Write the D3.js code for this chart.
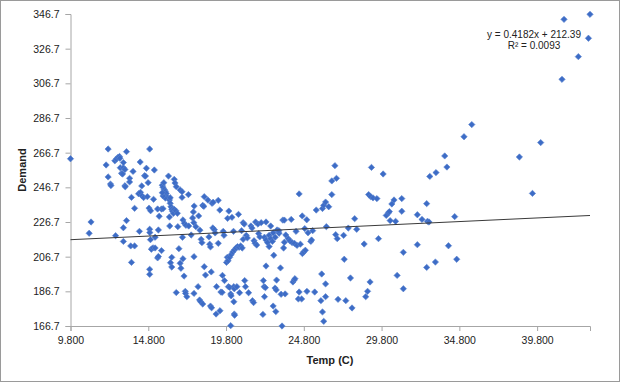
<!DOCTYPE html>
<html><head><meta charset="utf-8">
<script src="https://cdn.jsdelivr.net/npm/d3@7"></script>
<style>body{margin:0;background:#fff}svg{display:block}text{font-family:"Liberation Sans",Arial,sans-serif}</style>
</head><body><svg id="c" width="620" height="382"></svg>
<script>
const temps = [9.8,11.0,11.12,12.22,12.09,12.22,12.37,12.4,12.7,12.65,12.75,12.85,12.95,12.98,13.0,13.2,13.3,13.08,13.15,13.2,13.2,13.2,13.3,13.32,13.4,13.4,13.6,13.6,13.67,13.72,13.72,13.82,13.92,13.92,14.18,14.3,14.4,14.5,14.28,14.38,14.23,14.56,14.62,14.68,14.74,14.79,14.89,14.85,14.95,14.89,14.9,14.94,15.0,15.1,14.89,14.89,15.14,15.19,15.24,15.24,15.4,15.5,15.45,15.4,15.45,15.65,15.75,15.65,
15.7,15.75,15.83,15.9,15.96,16.0,15.9,15.75,15.7,15.8,16.1,16.16,16.18,16.23,16.16,16.21,16.26,16.31,16.36,16.42,16.21,16.31,16.31,16.47,16.52,16.6,16.47,16.57,16.67,16.6,16.7,16.77,16.85,16.97,16.85,16.9,16.97,17.0,17.03,17.03,17.1,17.18,17.2,17.28,17.12,17.22,17.38,17.4,17.56,17.65,17.73,17.7,17.74,17.74,17.75,17.86,18.0,18.04,18.1,18.17,18.12,18.2,18.25,18.3,18.37,18.4,18.3,18.4,18.48,18.63,18.7,18.75,18.8,18.8,18.87,18.85,18.9,18.97,18.95,19.05,19.1,19.16,19.19,19.3,19.3,19.4,19.41,19.47,19.55,19.57,19.62,19.67,19.7,19.83,19.88,19.9,19.95,20.03,19.98,
19.93,20.03,20.13,20.23,20.33,20.44,20.54,20.64,20.74,20.84,20.1,20.13,20.1,20.18,20.28,20.3,20.33,20.3,20.33,20.35,20.5,20.6,20.67,20.8,20.9,20.9,20.97,21.0,21.05,21.1,21.17,21.25,21.4,21.47,21.5,21.57,21.6,21.67,21.7,21.85,21.77,21.9,21.97,22.06,22.17,22.2,22.25,22.33,22.27,22.37,
22.27,22.37,22.47,22.57,22.67,22.78,22.83,22.96,23.08,23.21,22.37,22.57,22.67,22.83,22.87,22.95,23.03,23.0,23.05,23.2,23.3,23.34,23.45,23.55,23.4,23.5,23.55,23.6,23.64,23.8,23.9,24.05,24.2,24.36,23.99,24.1,24.18,24.23,24.3,24.45,24.66,24.5,24.5,24.58,24.71,24.79,24.9,24.7,24.86,24.99,25.0,25.07,25.25,25.3,25.37,25.5,25.6,25.9,25.95,26.0,26.0,26.08,26.08,26.2,26.2,26.2,26.25,26.4,26.6,26.6,26.8,26.9,26.85,26.95,27.0,27.36,27.4,27.5,27.66,27.8,27.9,28.07,28.2,28.68,28.78,28.9,28.97,29.06,29.1,29.15,29.25,29.5,29.6,29.9,30.1,30.25,30.3,30.35,30.46,30.6,30.7,30.8,31.1,31.1,31.2,31.2,32.1,32.1,32.4,32.7,32.75,32.85,32.7,32.9,33.26,33.3,33.86,34.0,34.1,34.5,34.63,35.1,35.6,38.66,39.5,40.03,41.4,41.53,42.45,43.1,43.2];
const demand = [263.2,220.2,226.7,268.8,259.6,252.7,248.6,247.7,218.8,262,263,264,264.5,263.5,258,258,257,254.8,254.4,261,223.4,215.5,247.6,247,267.3,227.5,251.9,249.8,212.9,240.9,203.4,255.9,234.6,212.9,243,243.8,241.8,240.8,261.3,247.5,221.3,253.4,253.2,257.7,241.3,249.4,268.8,234.7,233.2,222.5,220.6,216.5,211,211.8,199.4,196.5,239.8,256.7,217.9,211.7,234.2,230,222.1,206,206.8,234.2,234.4,210.2,
247.9,246.7,245.5,244.4,243.2,241.3,240.5,241.7,243.6,249.4,253.2,229.6,224.4,203.2,239.4,237.5,235.5,234,232.9,231.7,240.7,200.7,206.3,251.3,249.2,247.1,234,233.2,231.7,186,224,211.3,245.2,244.2,202.9,200,240.9,217.9,227.9,205.5,195.5,186.7,185.5,183.6,226,224.8,242.5,224.4,219.2,229,226.3,232.5,185.5,206.7,235.9,224,189.4,230.2,181.7,180.7,222,216.7,214.8,236.3,235.7,241.3,179.4,200.9,196.1,239.4,218.1,213.9,212.3,178.2,177.2,197.9,237.5,238.1,223.3,222.3,220.4,173.6,189.4,239.2,214.4,233.6,175.5,186.3,186.1,195.9,221.3,219,192.9,203.4,206.3,228.8,189.4,189,233,
204.4,206.3,207.9,209.4,210.5,211.7,212.5,212.1,212.9,211.7,185.2,184.1,166.9,229.4,221.3,189.4,188.2,180.7,173.6,172.9,189.4,231.1,185.9,221.7,216.7,226.3,225.5,192.9,189.4,219,217.5,185.9,224.4,223.2,181.3,180.2,215.9,214.4,226.7,225.5,213.4,220,218.1,226.3,173.4,192.9,189.4,188.8,183.6,201.3,
217.9,216.3,214.8,219,217.1,215.5,220.5,217.9,222.1,220.2,226.7,212.5,224.4,178.2,207.5,188.6,187.5,175,193.2,221.7,200.2,185,227.8,227.8,166.7,211.7,215,185.2,219.2,217.1,215.9,214.8,214.4,213.2,228.2,192.1,193.2,194,221.3,182.3,182.3,186.3,242.9,213.9,208.5,209.4,210.4,230.2,222.9,228,186.7,220.5,215.5,216.3,221.7,186.3,233.6,181.3,196.7,174.8,234.5,236.3,169.4,183.6,191,238.2,224,235.5,242.5,250.4,259.2,251.9,219.4,217.1,182.1,219,205.2,181.3,223.2,194.4,177.1,228.6,222.5,214,183.6,186.7,242.5,192.1,241.3,258.2,240.6,240.2,217.1,254.4,230.5,232,232.7,227.5,237.1,239.4,227.1,195.9,240.2,232.9,209.2,188.2,230.9,213.6,228.2,237.3,227.1,226.7,200.5,253,203.6,255.2,264.8,258.4,213,229.8,205.2,275.9,282.9,264.2,243.2,272.5,309,343.6,322.1,332.7,346.5];
const xTicks = [9.8,14.8,19.8,24.8,29.8,34.8,39.8];
const yTicks = [166.7,186.7,206.7,226.7,246.7,266.7,286.7,306.7,326.7,346.7];
const trendSlope = 0.4182, trendIntercept = 212.39;
const eqLabel = "y = 0.4182x + 212.39", r2Label = "R² = 0.0093";
const xTitle = "Temp (C)", yTitle = "Demand";

const svg = d3.select("#c");
svg.append("rect").attr("x",0.5).attr("y",0.5).attr("width",619).attr("height",381).attr("fill","#fff").attr("stroke","#9a9a9a");
const x = d3.scaleLinear().domain([9.8,43.2]).range([70.5,590]);
const y = d3.scaleLinear().domain([166.7,346.7]).range([326,14]);

const xa = svg.append("g").attr("transform","translate(0,326)")
  .call(d3.axisBottom(x).tickValues(xTicks).tickFormat(d3.format(".3f")).tickSizeOuter(0).tickSize(5).tickPadding(6));
const ya = svg.append("g").attr("transform","translate(70.5,0)")
  .call(d3.axisLeft(y).tickValues(yTicks).tickFormat(d3.format(".1f")).tickSizeOuter(0).tickSize(5).tickPadding(6));
[xa,ya].forEach(a=>{a.select(".domain").attr("stroke","#a6a6a6");a.selectAll(".tick line").attr("stroke","#a6a6a6");
  a.selectAll("text").attr("fill","#222").attr("font-size",10.5).attr("font-family","Liberation Sans, Arial, sans-serif");});

const pts = temps.map((t,i)=>[t,demand[i]]);
svg.append("g").selectAll("path").data(pts).join("path")
  .attr("d", d3.symbol().type(d3.symbolSquare).size(20))
  .attr("transform", d=>`translate(${x(d[0])},${y(d[1])}) rotate(45)`)
  .attr("fill","#3d6cc6").attr("stroke","#5a84d0").attr("stroke-width",0.6);

const xd = x.domain();
svg.append("line").attr("x1",x(xd[0])).attr("x2",x(xd[1]))
  .attr("y1",y(trendSlope*xd[0]+trendIntercept)).attr("y2",y(trendSlope*xd[1]+trendIntercept))
  .attr("stroke","#3a3a3a").attr("stroke-width",1);

svg.append("text").attr("x",534).attr("y",38).attr("text-anchor","middle").attr("font-size",10).attr("fill","#222").text(eqLabel);
svg.append("text").attr("x",534).attr("y",49).attr("text-anchor","middle").attr("font-size",10).attr("fill","#222").text(r2Label);
svg.append("text").attr("x",330).attr("y",364).attr("text-anchor","middle").attr("font-size",11).attr("font-weight","bold").attr("fill","#222").text(xTitle);
svg.append("text").attr("transform","translate(26,170) rotate(-90)").attr("text-anchor","middle").attr("font-size",11).attr("font-weight","bold").attr("fill","#222").text(yTitle);
</script></body></html>
